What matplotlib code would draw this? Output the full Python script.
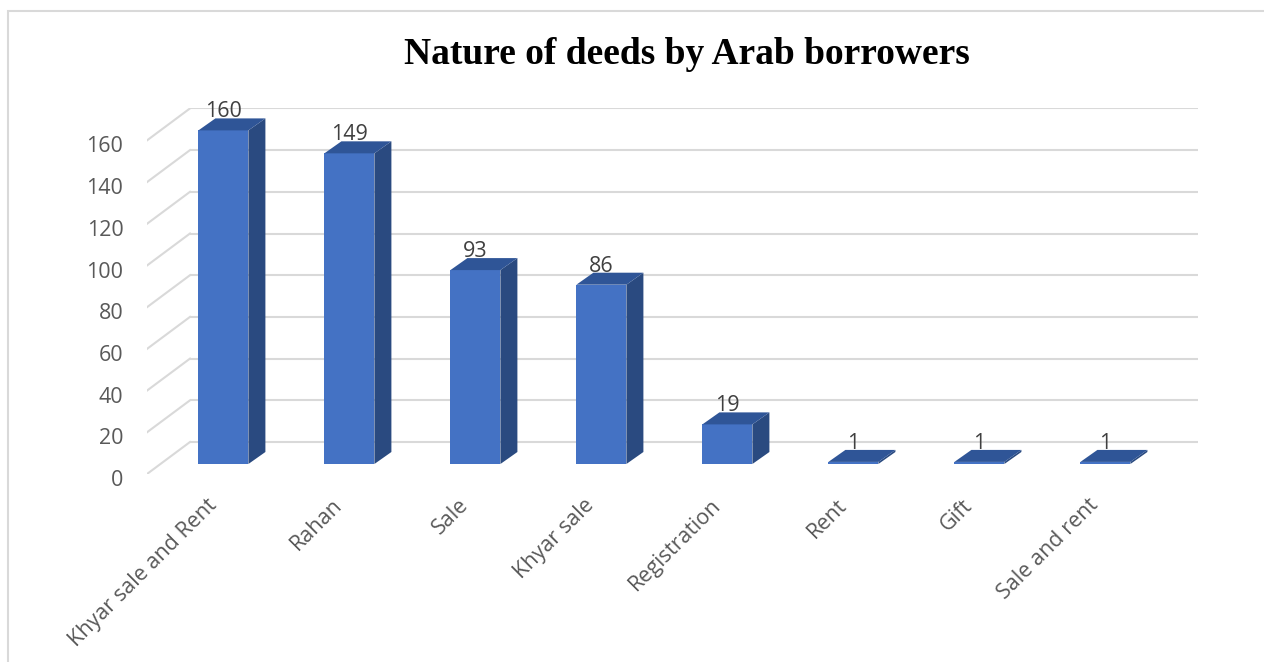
import matplotlib
matplotlib.use("Agg")
import matplotlib.pyplot as plt
from matplotlib.patches import Polygon, Rectangle
from matplotlib.transforms import ScaledTranslation

# datos
categorias = ["Khyar sale and Rent", "Rahan", "Sale", "Khyar sale",
              "Registration", "Rent", "Gift", "Sale and rent"]
valores = [160, 149, 93, 86, 19, 1, 1, 1]
yticks = [0, 20, 40, 60, 80, 100, 120, 140, 160]
titulo = "Nature of deeds by Arab borrowers"

# geometria del "3D" (en unidades de datos: x = categoria, y = valor)
W, H, DPI = 1264, 662, 100
slot_px = 126.0
unit_px = 41.7 / 20
depth_x, depth_y = 43 / slot_px, 32 / unit_px      # profundidad del suelo
bar_w = 50 / slot_px
bar_dx, bar_dy = 17 / slot_px, 12 / unit_px        # profundidad de la barra
off_x, off_y = 13.4 / slot_px, 10 / unit_px        # cara frontal de la barra

frente = "#4472C4"
lado = "#2A4A80"
tapa = "#2F5597"
grid_c = "#D9D9D9"
texto = "#595959"
fs = 15.5

plt.rcParams["font.family"] = ["Open Sans", "DejaVu Sans"]

fig = plt.figure(figsize=(W / DPI, H / DPI), dpi=DPI)

# borde del grafico
fig.patches.append(Rectangle((8 / W, -0.1), 1.2, (H - 11) / H + 0.1,
                             transform=fig.transFigure, fill=False,
                             edgecolor=grid_c, linewidth=1.5))

n = len(categorias)
xmax = n + depth_x
ymax = max(yticks) + depth_y
left_px, bottom_px = 147, 474
right_px = left_px + xmax * slot_px
top_px = bottom_px - ymax * unit_px
ax = fig.add_axes([left_px / W, (H - bottom_px) / H,
                   (right_px - left_px) / W, (bottom_px - top_px) / H])
ax.set_xlim(0, xmax)
ax.set_ylim(0, ymax)
for s in ax.spines.values():
    s.set_visible(False)
ax.patch.set_alpha(0)

# lineas de cuadricula (pared del fondo y pared izquierda)
for v in yticks:
    ax.plot([depth_x, xmax], [v + depth_y, v + depth_y], color=grid_c,
            lw=1.5, zorder=1, solid_capstyle="butt")
    ax.plot([0, depth_x], [v, v + depth_y], color=grid_c, lw=1.5, zorder=1)

# barras
baja = ScaledTranslation(0, -0.04, fig.dpi_scale_trans)
for i, v in enumerate(valores):
    x0 = i + 0.5 - bar_w / 2 + off_x
    x1 = x0 + bar_w
    y0 = off_y
    y1 = off_y + v
    ax.add_patch(Polygon([(x0, y0), (x1, y0), (x1, y1), (x0, y1)],
                         closed=True, facecolor=frente, edgecolor="none", zorder=3))
    ax.add_patch(Polygon([(x1, y0), (x1 + bar_dx, y0 + bar_dy),
                          (x1 + bar_dx, y1 + bar_dy), (x1, y1)],
                         closed=True, facecolor=lado, edgecolor="none", zorder=3))
    ax.add_patch(Polygon([(x0, y1), (x1, y1), (x1 + bar_dx, y1 + bar_dy),
                          (x0 + bar_dx, y1 + bar_dy)],
                         closed=True, facecolor=tapa, edgecolor="none", zorder=3))
    ax.text((x0 + x1) / 2, y1 + bar_dy, str(v), ha="center", va="bottom",
            fontsize=fs, color="#404040", zorder=4,
            transform=ax.transData + baja)

# ejes
ax.set_yticks(yticks)
ax.set_yticklabels([str(t) for t in yticks], fontsize=fs, color=texto)
ax.tick_params(axis="y", length=0, pad=17)
for lab in ax.get_yticklabels():
    lab.set_transform(lab.get_transform() + baja)

ax.set_xticks([i + 0.5 for i in range(n)])
ax.set_xticklabels(categorias, fontsize=fs, color=texto, rotation=45,
                   ha="right", va="top", rotation_mode="anchor")
ax.tick_params(axis="x", length=0, pad=15)
for lab in ax.get_xticklabels():
    lab.set_transform(lab.get_transform() + ScaledTranslation(-0.04, 0, fig.dpi_scale_trans))

fig.text(687 / W, 1 - 55 / H, titulo, ha="center", va="center",
         fontsize=27, fontweight="bold", family="Liberation Serif", color="black")

fig.savefig("out.png", dpi=DPI, facecolor="white")
